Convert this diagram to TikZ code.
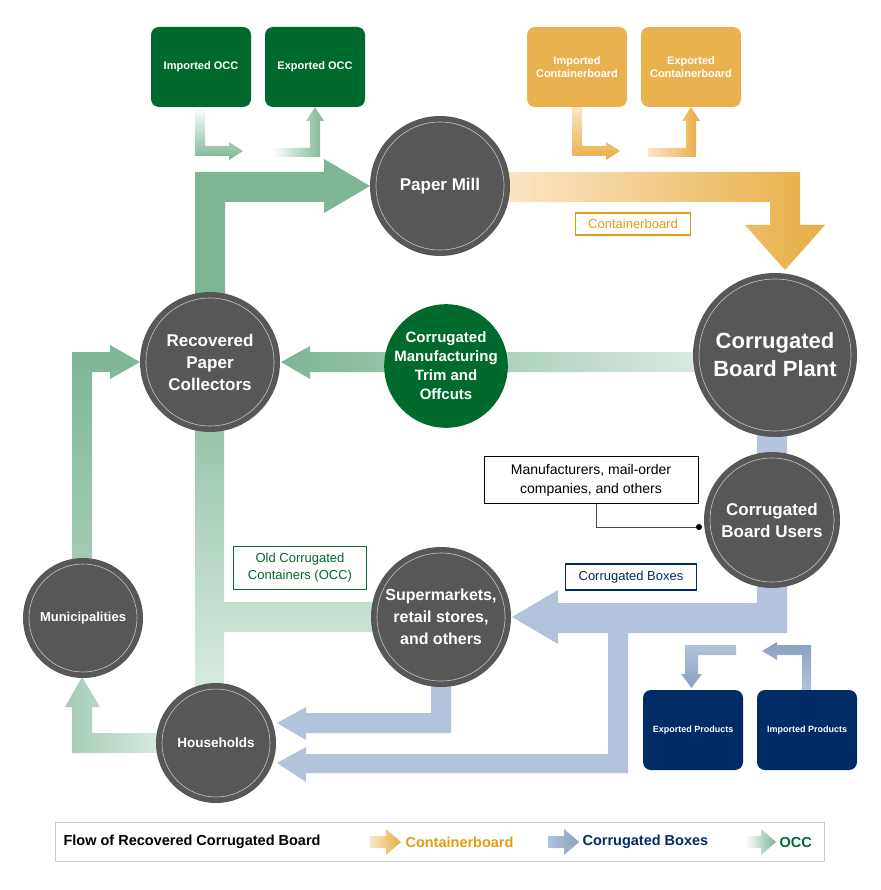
\documentclass[tikz,border=0pt]{standalone}
\usepackage{fontspec}
\setmainfont{Liberation Sans}
\begin{document}
\begin{tikzpicture}[x=1pt,y=-1pt,
  circ/.style={circle,fill=cgrey,text=white,font=\bfseries,align=center,inner sep=0pt},
  ring/.style={draw=white!65!cgrey,line width=0.6pt},
  gbox/.style={rounded corners=8pt,fill=dgreen,text=white,font=\bfseries\fontsize{11}{13}\selectfont,align=center,minimum width=100pt,minimum height=80pt},
  lab/.style={draw,line width=1.6pt,fill=white,font=\fontsize{13}{15}\selectfont,align=center,inner sep=3pt}]
\definecolor{cgrey}{HTML}{575757}
\definecolor{dgreen}{HTML}{006A2E}
\definecolor{navy}{HTML}{002B66}
\definecolor{orng}{HTML}{E8AE45}
\definecolor{ortxt}{HTML}{E39C0E}
\definecolor{lgreen}{HTML}{7DB595}
\definecolor{pgreen}{HTML}{D8EAE0}
\definecolor{lblue}{HTML}{B3C3DC}
\definecolor{mblue}{HTML}{8A9FC0}
\definecolor{porng}{HTML}{FAE6C6}
\useasboundingbox (0,0) rectangle (880,890);
% ---- big green arrows
\fill[lgreen] (195,330)--(195,172)--(324,172)--(324,159)--(370,186)--(324,213)--(324,202)--(225,202)--(225,330)--cycle;
\shade[left color=lgreen,right color=pgreen] (700,352)--(310,352)--(310,346)--(281,362)--(310,379)--(310,372)--(700,372)--cycle;
\shade[top color=lgreen,bottom color=lgreen!70!white] (72,560)--(72,352)--(110,352)--(110,345)--(140,362)--(110,379)--(110,372)--(92,372)--(92,560)--cycle;
\shade[top color=lgreen!80!white,bottom color=pgreen] (195,420)--(195,690)--(224,690)--(224,632)--(380,632)--(380,602)--(224,602)--(224,420)--cycle;
\shade[left color=lgreen!70!white,right color=pgreen] (160,733)--(92,733)--(92,707)--(100,707)--(82,677)--(65,707)--(72,707)--(72,753)--(160,753)--cycle;
% ---- orange
\shade[left color=porng,right color=orng] (505,172)--(800,172)--(800,225)--(825,225)--(785,270)--(745,225)--(770,225)--(770,202)--(505,202)--cycle;
% ---- blue
\fill[lblue] (757,430) rectangle (787,460);
\fill[lblue] (787,580)--(787,633)--(628,633)--(628,773)--(306,773)--(306,782)--(277,763)--(306,747)--(306,754)--(608,754)--(608,633)--(558,633)--(558,644)--(512,617)--(558,590)--(558,603)--(757,603)--(757,580)--cycle;
\fill[lblue] (431,680)--(431,713)--(306,713)--(306,707)--(277,723)--(306,740)--(306,733)--(451,733)--(451,680)--cycle;
% ---- small arrows
\shade[top color=white,bottom color=lgreen] (195,107)--(195,156)--(229,156)--(229,160)--(243,151)--(229,142)--(229,146)--(205,146)--(205,107)--cycle;
\shade[left color=white,right color=lgreen] (272,148)--(310,148)--(310,121)--(306,121)--(315,107)--(324,121)--(320,121)--(320,157)--(272,157)--cycle;
\shade[top color=porng,bottom color=orng] (572,107)--(572,156)--(606,156)--(606,160)--(620,151)--(606,142)--(606,146)--(582,146)--(582,107)--cycle;
\shade[left color=porng,right color=orng] (648,148)--(686,148)--(686,121)--(682,121)--(691,107)--(700,121)--(696,121)--(696,157)--(648,157)--cycle;
\shade[top color=lblue,bottom color=mblue] (736,645)--(685,645)--(685,674)--(681,674)--(691.5,688)--(702,674)--(698,674)--(698,655)--(736,655)--cycle;
\shade[top color=mblue,bottom color=lblue] (811,690)--(811,645)--(777,645)--(777,642)--(762,651)--(777,660)--(777,655)--(802,655)--(802,690)--cycle;
% ---- boxes
\node[gbox] (impocc) at (201,67) {Imported OCC};
\node[gbox] (expocc) at (315,67) {Exported OCC};
\node[gbox,fill=orng!95!white] (impcb) at (577,67) {Imported\\Containerboard};
\node[gbox,fill=orng!95!white] (expcb) at (691,67) {Exported\\Containerboard};
\node[gbox,fill=navy,font=\bfseries\fontsize{9}{11}\selectfont] (expp) at (693,730) {Exported Products};
\node[gbox,fill=navy,font=\bfseries\fontsize{9}{11}\selectfont] (impp) at (807,730) {Imported Products};
% ---- circles
\node[circ,minimum size=140pt,font=\bfseries\fontsize{17}{20}\selectfont] (mill) at (440,186) {Paper Mill};
\draw[ring] (mill) circle[radius=64];
\node[circ,minimum size=140pt,font=\bfseries\fontsize{17}{22}\selectfont] (coll) at (210,362) {Recovered\\Paper\\Collectors};
\draw[ring] (coll) circle[radius=64];
\node[circ,fill=dgreen,minimum size=120pt,font=\bfseries\fontsize{15}{19}\selectfont] (trim) at (446,366) {Corrugated\\Manufacturing\\Trim and\\Offcuts};
\node[circ,minimum size=164pt,font=\bfseries\fontsize{22}{28}\selectfont] (plant) at (775,355) {Corrugated\\Board Plant};
\draw[ring] (plant) circle[radius=76];
\node[circ,minimum size=136pt,font=\bfseries\fontsize{17}{22}\selectfont] (users) at (772,520) {Corrugated\\Board Users};
\draw[ring] (users) circle[radius=62];
\node[circ,minimum size=140pt,font=\bfseries\fontsize{16}{22}\selectfont] (super) at (441,617) {Supermarkets,\\retail stores,\\and others};
\draw[ring] (super) circle[radius=64];
\node[circ,minimum size=120pt,font=\bfseries\fontsize{13}{15}\selectfont] (muni) at (83,618) {Municipalities};
\draw[ring] (muni) circle[radius=54];
\node[circ,minimum size=120pt,font=\bfseries\fontsize{13.5}{15}\selectfont] (house) at (216,743) {Households};
\draw[ring] (house) circle[radius=54];
% ---- labels
\node[lab,draw=ortxt,text=ortxt,line width=1.2pt,minimum width=115pt,minimum height=22pt] (lcb) at (633,224) {Containerboard};
\node[lab,draw=dgreen,text=dgreen,minimum width=133pt,minimum height=43pt,font=\fontsize{13}{17}\selectfont] (locc) at (300,568) {Old Corrugated\\Containers (OCC)};
\node[lab,draw=navy,text=navy,minimum width=131pt,minimum height=26pt] (lbox) at (631,577) {Corrugated Boxes};
\node[lab,draw=black,line width=0.6pt,text=black,minimum width=214pt,minimum height=47pt,font=\fontsize{14}{19}\selectfont] (manu) at (591,480) {Manufacturers, mail-order\\companies, and others};
\coordinate (dot) at (699,527);
\draw[black!70,line width=0.6pt] (manu.south -| 596,0) |- (dot);
\fill (dot) circle[radius=3];
% ---- legend
\node[draw=black!20,line width=1pt,minimum width=769pt,minimum height=39pt] (leg) at (439.5,841.5) {};
\node[anchor=west,font=\bfseries\fontsize{14.5}{16}\selectfont] (legt) at (60,842) {Flow of Recovered Corrugated Board};
\shade[left color=porng,right color=orng] (370,836)--(386,836)--(386,829)--(401,842)--(386,855)--(386,848)--(370,848)--cycle;
\node[anchor=west,text=ortxt,font=\bfseries\fontsize{14.5}{16}\selectfont] (legc) at (402,842) {Containerboard};
\shade[left color=lblue,right color=mblue] (548,836)--(564,836)--(564,829)--(579,842)--(564,855)--(564,848)--(548,848)--cycle;
\node[anchor=west,text=navy,font=\bfseries\fontsize{14.5}{16}\selectfont] (legb) at (579,842) {Corrugated Boxes};
\shade[left color=white,right color=lgreen] (745,836)--(761,836)--(761,829)--(776,842)--(761,855)--(761,848)--(745,848)--cycle;
\node[anchor=west,text=dgreen,font=\bfseries\fontsize{14.5}{16}\selectfont] (lego) at (776,842) {OCC};
\end{tikzpicture}
\end{document}
